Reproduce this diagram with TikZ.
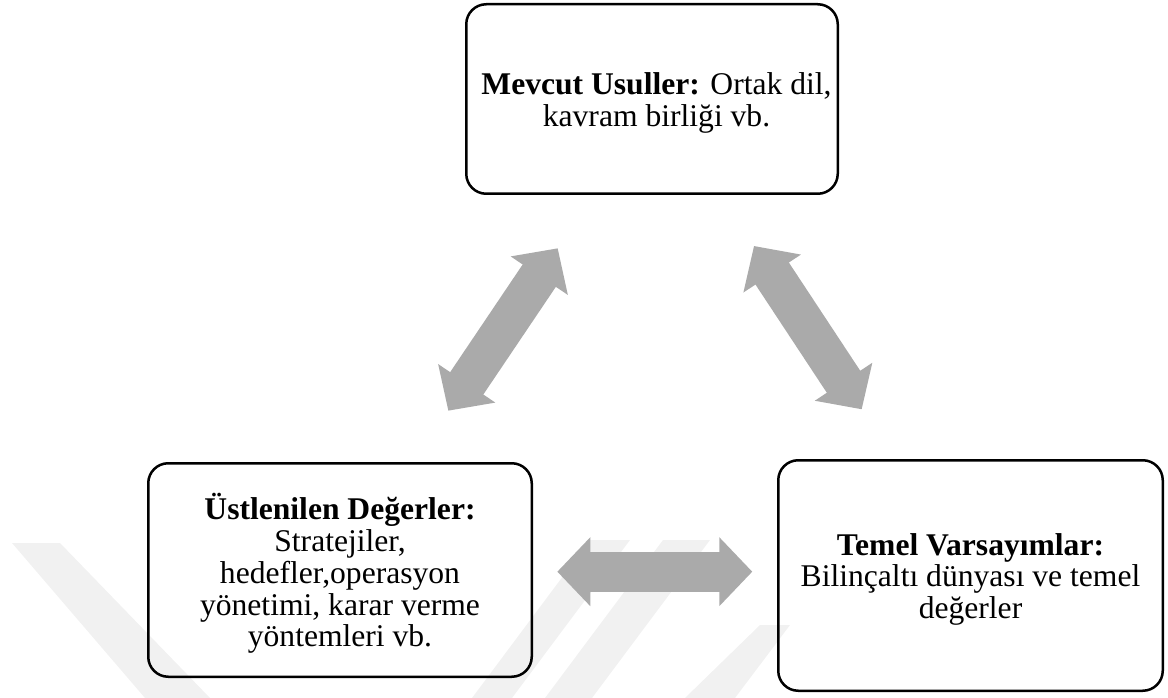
\documentclass[tikz,border=0pt]{standalone}
\usepackage{fontspec}
\setmainfont{Liberation Serif}
\usetikzlibrary{arrows.meta}
\definecolor{arrowgray}{RGB}{170,170,170}
\definecolor{markgray}{RGB}{241,241,241}
% box text: centred lines, set a little below the middle of the box
\newcommand{\boxtext}[1]{\raisebox{-5pt}[\height][\depth]{%
  \begin{tabular}{@{}c@{}}#1\end{tabular}}}
\begin{document}
\begin{tikzpicture}[x=1pt,y=-1pt,
  box/.style={draw=black, line width=2.5pt, rounded corners=20pt,
    inner sep=0pt, font=\fontsize{31.6}{31.7}\selectfont},
  biarrow/.style={draw=arrowgray, line width=40pt,
    {Triangle[length=33pt,width=67pt]}-{Triangle[length=33pt,width=67pt]}}]
\useasboundingbox (0,0) rectangle (1168,698);

% faint background bands
\fill[markgray] (12,543) -- (60,543) -- (210,698) -- (145,698) -- cycle;
\fill[markgray] (472,698) -- (512,698) -- (630,540) -- (590,540) -- cycle;
\fill[markgray] (545,698) -- (592,698) -- (710,540) -- (663,540) -- cycle;
\fill[markgray] (685,698) -- (735,698) -- (790,625) -- (760,625) -- cycle;

% the three boxes
\node[box, minimum width=371.5pt, minimum height=189.5pt] (usul) at (652,99)
  {\hspace*{9pt}\boxtext{\textbf{Mevcut Usuller:} Ortak dil,\\ kavram birliği vb.}};
\node[box, minimum width=383.5pt, minimum height=213.5pt] (deger) at (340,570)
  {\boxtext{\textbf{Üstlenilen Değerler:}\\ Stratejiler,\\ hedefler,operasyon\\
   yönetimi, karar verme\\ yöntemleri vb.}};
\node[box, minimum width=384.5pt, minimum height=230.5pt] (varsay) at (970.5,575.5)
  {\boxtext{\textbf{Temel Varsayımlar:}\\ Bilinçaltı dünyası ve temel\\ değerler}};

% arrow end points
\coordinate (la) at (448.3,410.7);
\coordinate (lb) at (557.7,248.3);
\coordinate (ra) at (754,246);
\coordinate (rb) at (861.7,409.3);
\coordinate (ha) at (557.3,571.7);
\coordinate (hb) at (752.3,571.7);

% two-way block arrows
\draw[biarrow] (la) -- (lb);
\draw[biarrow] (ra) -- (rb);
\draw[biarrow] (ha) -- (hb);
\end{tikzpicture}
\end{document}
